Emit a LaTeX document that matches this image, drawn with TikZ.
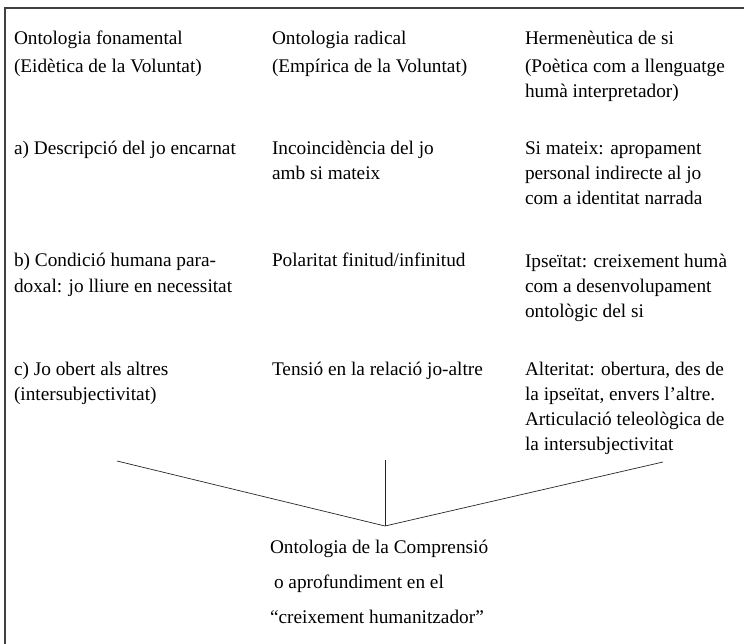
\documentclass[tikz,border=0pt]{standalone}
\usepackage{fontspec}
\setmainfont{Liberation Serif}
\begin{document}
\begin{tikzpicture}[x=1pt,y=-1pt,
  cell/.style={anchor=north west, inner sep=0pt, outer sep=0pt, align=left,
    font=\fontsize{19.3}{25}\selectfont},
  frameline/.style={draw=black!75, line width=1.6pt},
  joinline/.style={draw=black!85, line width=0.7pt}]
\useasboundingbox (0,0) rectangle (744,644);
\draw[frameline] (5,644) -- (5,8) -- (744,8);
% headers (baseline - 16)
\node[cell] (h1) at (14,29) {\rule{0pt}{16pt}Ontologia fonamental};
\node[cell] (h2) at (272,29) {\rule{0pt}{16pt}Ontologia radical};
\node[cell] (h3) at (525,29) {\rule{0pt}{16pt}Hermenèutica de si};
% second row
\node[cell] (s1) at (14,57) {\rule{0pt}{16pt}(Eidètica de la Voluntat)};
\node[cell] (s2) at (272,57) {\rule{0pt}{16pt}(Empírica de la Voluntat)};
\node[cell] (s3) at (525,57) {\rule{0pt}{16pt}(Poètica com a llenguatge\\humà interpretador)};
% row a
\node[cell] (a1) at (14,139) {\rule{0pt}{16pt}a) Descripció del jo encarnat};
\node[cell] (a2) at (272,139) {\rule{0pt}{16pt}Incoincidència del jo\\amb si mateix};
\node[cell] (a3) at (525,139) {\rule{0pt}{16pt}Si mateix: apropament\\personal indirecte al jo\\com a identitat narrada};
% row b
\node[cell] (b1) at (14,251) {\rule{0pt}{16pt}b) Condició humana para-\\doxal: jo lliure en necessitat};
\node[cell] (b2) at (272,251) {\rule{0pt}{16pt}Polaritat finitud/infinitud};
\node[cell] (b3) at (525,251) {\rule{0pt}{16pt}Ipseïtat: creixement humà\\com a desenvolupament\\ontològic del si};
% row c
\node[cell] (c1) at (14,359) {\rule{0pt}{16pt}c) Jo obert als altres\\(intersubjectivitat)};
\node[cell] (c2) at (272,359) {\rule{0pt}{16pt}Tensió en la relació jo-altre};
\node[cell] (c3) at (525,359) {\rule{0pt}{16pt}Alteritat: obertura, des de\\la ipseïtat, envers l’altre.\\Articulació teleològica de\\la intersubjectivitat};
% connectors
\coordinate (L) at (117,461);
\coordinate (M) at (385,460);
\coordinate (R) at (663,462);
\coordinate (A) at (385,526);
\draw[joinline] (L) -- (A) -- (R);
\draw[joinline] (M) -- (A);
% result
\node[cell, font=\fontsize{19.3}{35}\selectfont] (res) at (270,537) {\rule{0pt}{16pt}Ontologia de la Comprensió\\\hspace{4pt}o aprofundiment en el\\“creixement humanitzador”};
\end{tikzpicture}
\end{document}
